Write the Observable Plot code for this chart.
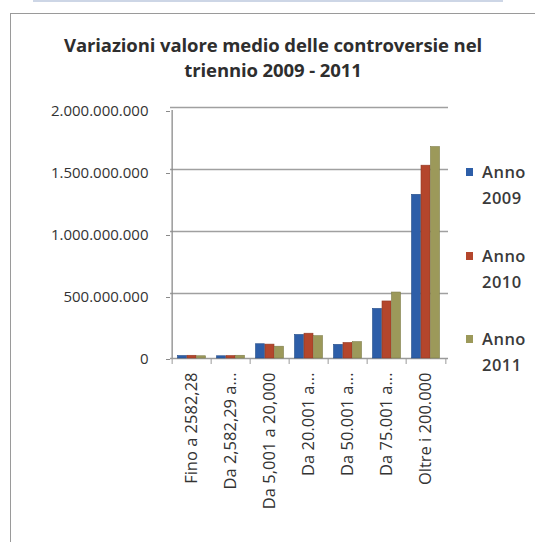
<!DOCTYPE html>
<html>
<head>
<meta charset="utf-8">
<script src="https://cdn.jsdelivr.net/npm/d3@7"></script>
<script src="https://cdn.jsdelivr.net/npm/@observablehq/plot@0.6"></script>
<style>
  html, body { margin: 0; padding: 0; background: #fff; }
  #wrap { position: relative; width: 535px; height: 542px; overflow: hidden; font-family: "Open Sans", sans-serif; color: #3a3a3a; }
  #topline { position: absolute; left: 33px; top: 0px; width: 470px; height: 2px; background: #cdd6e6; }
  #frame { position: absolute; left: 10px; top: 13px; width: 540px; height: 560px; border-left: 1.5px solid #9a9a9a; border-top: 1.5px solid #9a9a9a; }
  #title { position: absolute; left: 0; width: 546px; top: 32px; text-align: center; font-weight: 700; font-size: 18.5px; line-height: 25px; color: #2e2e2e; letter-spacing: -0.1px; }
  #chart { position: absolute; left: 0; top: 0; }
  .leg { position: absolute; left: 466px; font-size: 16.5px; font-weight: 600; color: #3a3a3a; line-height: 26px; letter-spacing: 0.5px; }
  .leg .sw { position: absolute; left: 0; top: 9px; width: 7px; height: 8px; }
  .leg .t { position: absolute; left: 16px; top: 0; white-space: nowrap; }
</style>
</head>
<body>
<div id="wrap">
  <div id="topline"></div>
  <div id="frame"></div>
  <div id="title">Variazioni valore medio delle controversie nel<br>triennio 2009 - 2011</div>
  <div id="chart"></div>
  <div id="legend"></div>
</div>
<script>
// ---- data ----
const categories = ["Fino a 2582,28", "Da 2,582,29 a...", "Da 5,001 a 20,000", "Da 20.001 a...", "Da 50.001 a...", "Da 75.001 a...", "Oltre i 200.000"];
const years = ["Anno 2009", "Anno 2010", "Anno 2011"];
const values2009 = [20e6, 18e6, 115e6, 190e6, 110e6, 400e6, 1320e6];
const values2010 = [22e6, 20e6, 112e6, 200e6, 125e6, 460e6, 1555e6];
const values2011 = [18e6, 22e6, 95e6, 180e6, 132e6, 532e6, 1705e6];
const yTicks = [0, 500e6, 1000e6, 1500e6, 2000e6];
const colors = ["#2d5ea8", "#b4462c", "#9c995a"];

const series = [values2009, values2010, values2011];
const data = [];
years.forEach((y, i) => categories.forEach((c, j) => data.push({cat: c, year: y, value: series[i][j]})));

const fmt = d3.formatLocale({decimal: ",", thousands: ".", grouping: [3], currency: ["", ""]}).format(",d");

const W = 535, H = 542;
const mL = 170, mR = 87, mT = 110, mB = 184;
const step = (W - mL - mR) / categories.length;
const barW = 9.5;
const pInner = 1 - barW / step;

const marks = [
  Plot.ruleY(yTicks.filter(d => d > 0), {stroke: "#a0a0a0", strokeWidth: 1.3, dy: -3}),
  Plot.ruleX([0], {x: () => categories[0], dx: -step / 2, y1: 0, y2: 2000e6, stroke: "#8a8a8a", strokeWidth: 1.3}),
  Plot.ruleY([0], {stroke: "#9a9a9a", strokeWidth: 1.3}),
  Plot.axisY({ticks: yTicks, tickFormat: fmt, tickSize: 4, tickPadding: 18, fontSize: 15, fill: "#333", stroke: "#8a8a8a", dy: 1, label: null, style: {letterSpacing: "1.1px"}}),
  Plot.axisX({ticks: categories, tickSize: 0, tickRotate: -90, tickPadding: 14, fontSize: 16.5, fill: "#333", label: null, style: {letterSpacing: "0.9px"}}),
  Plot.axisX({ticks: categories, tickSize: 6, tickFormat: () => "", dx: -step / 2, stroke: "#9a9a9a", label: null}),
  Plot.axisX({ticks: [categories[categories.length - 1]], tickSize: 6, tickFormat: () => "", dx: step / 2, stroke: "#9a9a9a", label: null})
];
years.forEach((y, i) => {
  marks.push(Plot.barY(data.filter(d => d.year === y), {x: "cat", y: "value", fill: colors[i], dx: (i - 1) * barW, stroke: d3.color(colors[i]).darker(0.6).formatHex(), strokeWidth: 0.6}));
});

const chart = Plot.plot({
  width: W, height: H,
  marginLeft: mL, marginRight: mR, marginTop: mT, marginBottom: mB,
  style: {background: "transparent", fontFamily: "Open Sans, sans-serif"},
  x: {domain: categories, paddingInner: pInner, paddingOuter: pInner / 2, axis: null, label: null},
  y: {domain: [0, 2000e6], axis: null, label: null},
  marks
});
document.getElementById("chart").appendChild(chart);

// legend (HTML)
const legendTops = [159, 243, 326];
const legend = document.getElementById("legend");
years.forEach((y, i) => {
  const [a, b] = y.split(" ");
  const div = document.createElement("div");
  div.className = "leg";
  div.style.top = legendTops[i] + "px";
  div.innerHTML = `<div class="sw" style="background:${colors[i]}"></div><div class="t">${a}<br>${b}</div>`;
  legend.appendChild(div);
});
</script>
</body>
</html>
